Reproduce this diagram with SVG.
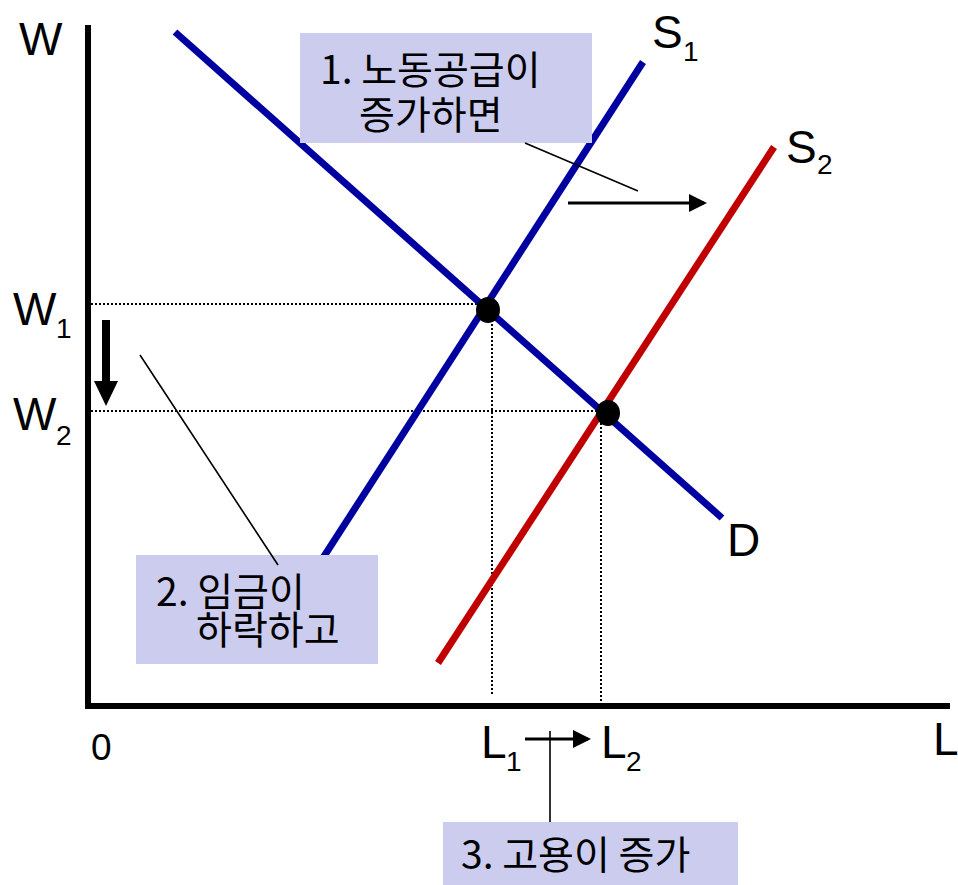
<svg xmlns="http://www.w3.org/2000/svg" width="958" height="885" viewBox="0 0 958 885">
<style>
.lat{font-family:"Liberation Sans",Arial,sans-serif;fill:#000}
.big{font-size:46px}
.sub{font-size:28px}
.kr{font-family:"Noto Sans CJK KR","Noto Sans",sans-serif;font-size:39px;fill:#000}
.box{fill:#CCCCEE}
.dot{stroke:#000;stroke-width:2;stroke-dasharray:2 2;fill:none}
.thin{stroke:#000;stroke-width:1.6;fill:none}
</style>
<defs>
<marker id="ah" markerWidth="6" markerHeight="6" refX="5" refY="3" orient="auto" markerUnits="strokeWidth">
<path d="M0,0 L6,3 L0,6 z" fill="#000"/>
</marker>
</defs>
<rect width="958" height="885" fill="#fff"/>
<g id="guides">
<line class="dot" x1="91" y1="304" x2="488" y2="304"/>
<line class="dot" x1="91" y1="411" x2="606" y2="411"/>
<line class="dot" x1="492" y1="312" x2="492" y2="694"/>
<line class="dot" x1="601" y1="415" x2="601" y2="702"/>
</g>
<g id="axes">
<line x1="88" y1="25" x2="88" y2="709" stroke="#000" stroke-width="6"/>
<line x1="85" y1="706" x2="950" y2="706" stroke="#000" stroke-width="6"/>
</g>
<g id="curve-D"><line x1="175" y1="32" x2="722" y2="518" stroke="#0000A0" stroke-width="7"/></g>
<g id="curve-S1"><line x1="643" y1="62" x2="270" y2="640" stroke="#0000A0" stroke-width="7"/></g>
<g id="curve-S2"><line x1="774" y1="147" x2="438" y2="663" stroke="#C00000" stroke-width="7"/></g>
<g id="eq1"><ellipse cx="488" cy="310" rx="12" ry="13" fill="#000"/></g>
<g id="eq2"><ellipse cx="608" cy="413" rx="12" ry="13" fill="#000"/></g>
<g id="box1">
<rect class="box" x="300" y="33" width="292" height="110"/>
<text class="kr" x="320" y="84">1. 노동공급이</text>
<text class="kr" x="359" y="129">증가하면</text>
</g>
<g id="box2">
<rect class="box" x="136" y="555" width="242" height="109"/>
<text class="kr" x="156" y="606">2. 임금이</text>
<text class="kr" x="196" y="644">하락하고</text>
</g>
<g id="box3">
<rect class="box" x="443" y="822" width="295" height="63"/>
<text class="kr" x="461" y="869">3. 고용이 증가</text>
</g>
<g id="labels">
<text class="lat big" x="19" y="55">W</text>
<text class="lat big" x="13" y="325">W</text><text class="lat sub" x="56" y="338">1</text>
<text class="lat big" x="13" y="430">W</text><text class="lat sub" x="56" y="445">2</text>
<text class="lat" x="91" y="760" font-size="37">0</text>
<text class="lat big" x="933" y="755">L</text>
<text class="lat big" x="481" y="758">L</text><text class="lat sub" x="506" y="771">1</text>
<text class="lat big" x="601" y="758">L</text><text class="lat sub" x="626" y="771">2</text>
<text class="lat big" x="727" y="556">D</text>
<text class="lat big" x="652" y="48">S</text><text class="lat sub" x="683" y="61">1</text>
<text class="lat big" x="786" y="163">S</text><text class="lat sub" x="817" y="174">2</text>
</g>
<g id="connectors">
<line class="thin" x1="525" y1="143" x2="638" y2="191"/>
<line x1="568" y1="203" x2="704" y2="203" stroke="#000" stroke-width="3" marker-end="url(#ah)"/>
<line class="thin" x1="140" y1="355" x2="278" y2="565"/>
<line x1="106" y1="320" x2="106" y2="382" stroke="#000" stroke-width="8"/>
<path d="M94,381 L118,381 L106,406 z" fill="#000"/>
<line class="thin" x1="550" y1="822" x2="550" y2="731"/>
<line x1="525" y1="739" x2="588" y2="739" stroke="#000" stroke-width="3" marker-end="url(#ah)"/>
</g>
</svg>
